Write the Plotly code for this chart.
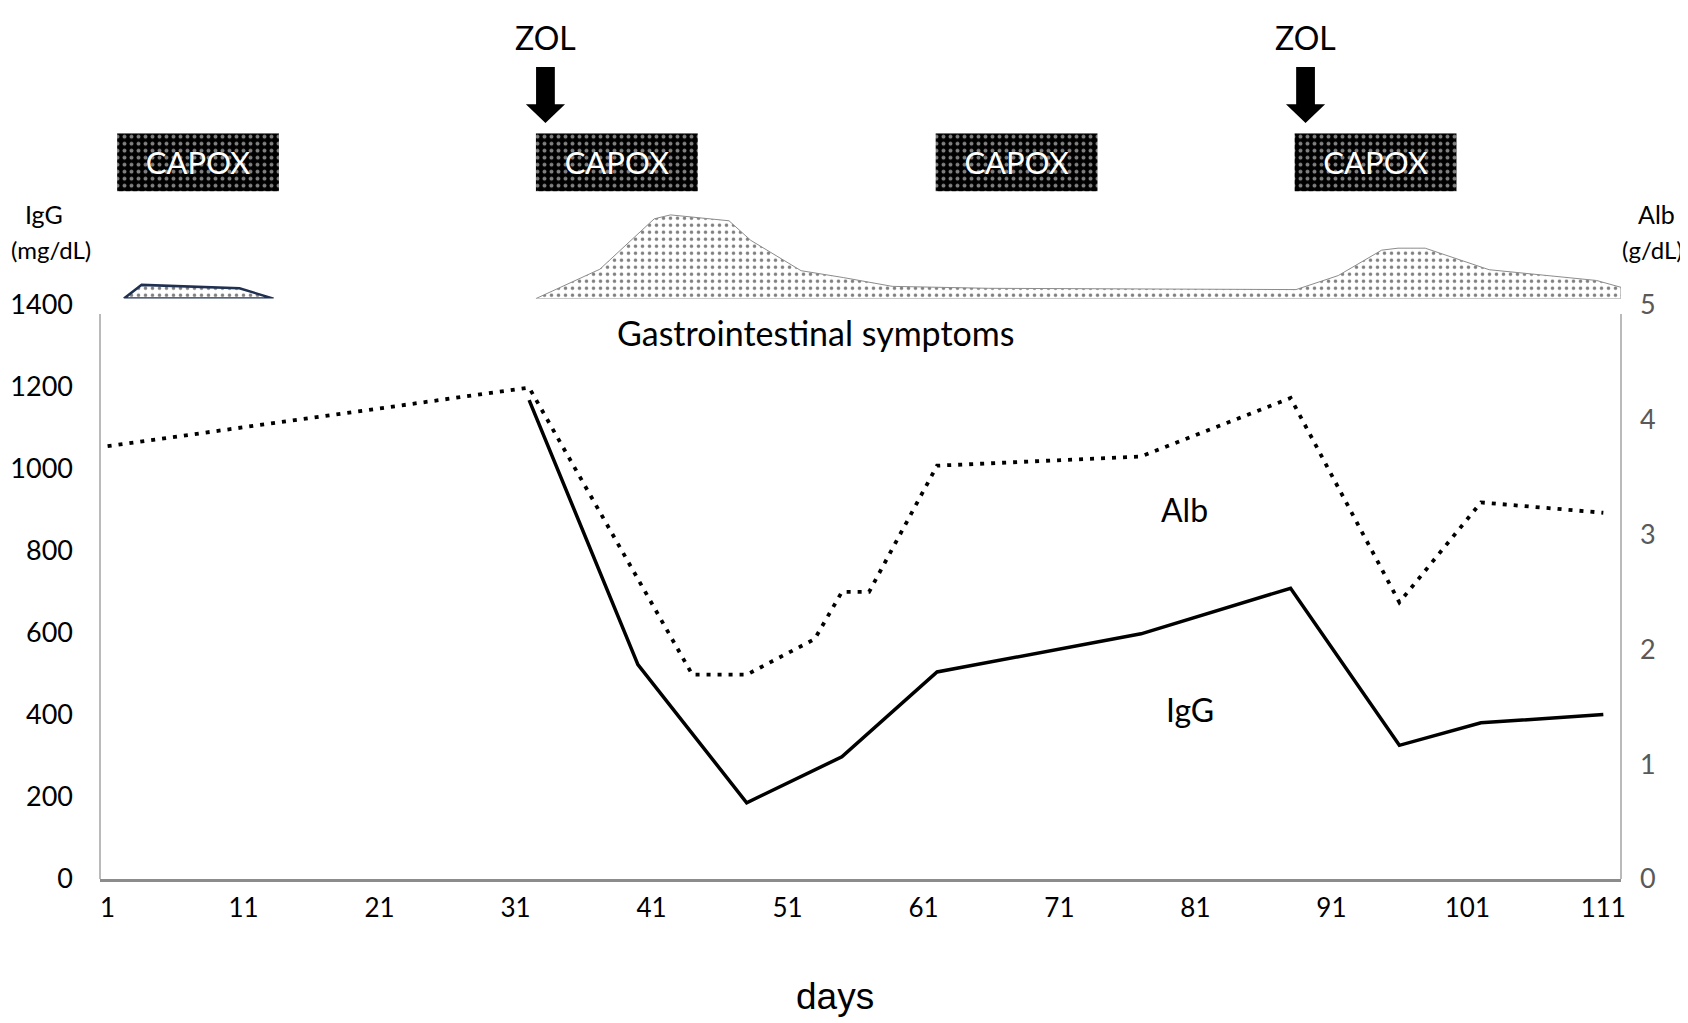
import plotly.graph_objects as go

FONT = "Lato, 'Noto Sans', sans-serif"

# values
days_ticks = list(range(1, 112, 10))
igg_ticks = list(range(0, 1401, 200))
alb_ticks = [0, 1, 2, 3, 4, 5]

alb_days = [1, 32, 44, 48, 53, 55, 57, 62, 77, 88, 96, 102, 111]
alb_vals = [3.77, 4.28, 1.78, 1.78, 2.09, 2.50, 2.50, 3.60, 3.68, 4.19, 2.41, 3.28, 3.19]

igg_days = [32, 40, 48, 55, 62, 77, 88, 96, 102, 111]
igg_vals = [1168, 523, 186, 298, 505, 598, 709, 326, 381, 401]

capox_start = [1.7, 32.5, 61.9, 88.3]
capox_end = [13.6, 44.4, 73.8, 100.2]
capox_label = ["CAPOX"] * 4

zol_days = [33.2, 89.1]

# gastrointestinal symptoms (relative level, arbitrary scale 0-100)
gi1_days = [2.2, 3.5, 10.7, 13.2, 2.2]
gi1_level = [0, 14, 10.5, 0, 0]
gi2_days = [32.5, 37.2, 41.2, 42.4, 46.7, 48.3, 52, 55.1, 58.7, 65.8, 88.4,
            91.5, 94.7, 95.9, 97.9, 102.6, 110.5, 112.3, 112.3, 32.5]
gi2_level = [0, 30, 81.5, 85.5, 79.5, 59.5, 28.5, 21.5, 12.5, 10.5, 9.2,
             23.5, 49.5, 51.5, 51.5, 29.5, 18.5, 11.5, 0, 0]

X_RANGE = [0.44, 112.3]

# the page body has an 8px margin, so the figure is shifted by 8px;
# all pixel positions below are in window pixels
OFF = 8
W, H = 1688 - OFF, 1023 - OFF
ML, MR, MT, MB = 100 - OFF, 67, 0, 143.5
PH = H - MT - MB
PW = W - ML - MR
AX_BOTTOM = 879.5


def py(ypx):
    return (AX_BOTTOM - ypx) / PH


def px(xpx):
    return (xpx - 100) / PW


fig = go.Figure()

fig.add_trace(go.Scatter(
    x=igg_days, y=igg_vals, mode="lines", name="IgG",
    line=dict(color="black", width=3.5), yaxis="y"))

fig.add_trace(go.Scatter(
    x=alb_days, y=alb_vals, mode="lines", name="Alb",
    line=dict(color="black", width=3.8, dash="4px,7px"), yaxis="y2"))

dots = dict(shape=".", fgcolor="black", bgcolor="white", size=7, solidity=0.2)
fig.add_trace(go.Scatter(
    x=gi1_days, y=gi1_level, mode="lines", fill="toself", fillpattern=dots,
    fillcolor="white", line=dict(color="#1f3050", width=2.5), yaxis="y3"))
fig.add_trace(go.Scatter(
    x=gi2_days, y=gi2_level, mode="lines", fill="toself", fillpattern=dots,
    fillcolor="white", line=dict(color="#8c8c8c", width=1), yaxis="y3"))

fig.add_trace(go.Bar(
    y=[0] * len(capox_start),
    x=[e - s for s, e in zip(capox_start, capox_end)],
    base=capox_start, orientation="h", width=1,
    text=capox_label, textposition="inside", insidetextanchor="middle",
    textfont=dict(color="white", size=31, family=FONT),
    marker=dict(color="black", line=dict(width=0),
                pattern=dict(shape=".", fgcolor="white", bgcolor="black",
                             size=7, solidity=0.25)),
    yaxis="y4"))

# ZOL block arrows
shapes = []
for d in zol_days:
    hs, hh = 0.69, 1.44
    y_top, y_neck, y_tip = py(50), py(88), py(107)
    path = (f"M {d-hs},{y_top} L {d+hs},{y_top} L {d+hs},{y_neck} "
            f"L {d+hh},{y_neck} L {d},{y_tip} L {d-hh},{y_neck} "
            f"L {d-hs},{y_neck} Z")
    shapes.append(dict(type="path", path=path, xref="x", yref="paper",
                       fillcolor="black", line=dict(width=0)))

# vertical axis lines (they stop a little below the top tick)
for xp in (0, 1):
    shapes.append(dict(type="line", xref="paper", yref="y", x0=xp, x1=xp,
                       y0=0, y1=1378, line=dict(color="#8c8c8c", width=1.2)))

annotations = []
for d in zol_days:
    annotations.append(dict(x=d, y=py(20), xref="x", yref="paper", text="ZOL",
                            showarrow=False, yanchor="middle",
                            font=dict(size=32, family=FONT, color="black")))


def label(text, xpx, ypx, size, family=FONT, anchor="center"):
    annotations.append(dict(x=px(xpx), y=py(ypx), xref="paper", yref="paper",
                            text=text, showarrow=False, xanchor=anchor, yanchor="middle",
                            font=dict(size=size, family=family, color="black")))


label("IgG", 44, 200, 25)
label("(mg/dL)", 9, 236, 24, anchor="left")
label("Alb", 1657, 200, 25)
label("(g/dL)", 1685, 236, 24, anchor="right")
label("Gastrointestinal symptoms", 816, 321, 34)
label("Alb", 1184, 502, 32)
label("IgG", 1190, 706, 32)
label("days", 835, 1000, 37, "'Liberation Sans', Arial, sans-serif")

fig.update_layout(
    width=W, height=H,
    margin=dict(l=ML, r=MR, t=MT, b=MB),
    paper_bgcolor="white", plot_bgcolor="white",
    showlegend=False,
    font=dict(family=FONT, color="black"),
    shapes=shapes, annotations=annotations,
    xaxis=dict(range=X_RANGE, tickvals=days_ticks, ticks="", showgrid=False,
               zeroline=False, showline=True, linecolor="#8c8c8c", linewidth=2.5,
               tickfont=dict(size=26, color="black"), ticklabelstandoff=4),
    yaxis=dict(domain=[0, py(293)], range=[0, 1400], tickvals=igg_ticks,
               ticks="", showgrid=False, zeroline=False, showline=False,
               tickfont=dict(size=27, color="black"), ticklabelstandoff=26),
    yaxis2=dict(domain=[0, py(293)], range=[0, 5], tickvals=alb_ticks,
                overlaying="y", side="right", ticks="", showgrid=False,
                zeroline=False, showline=False,
                tickfont=dict(size=27, color="#595959"), ticklabelstandoff=18),
    yaxis3=dict(domain=[py(286.5), py(186.5)], range=[0, 100], visible=False,
                anchor="x"),
    yaxis4=dict(domain=[py(177), py(117.5)], range=[-0.5, 0.5], visible=False,
                anchor="x"),
)

fig.write_html("out.html")
